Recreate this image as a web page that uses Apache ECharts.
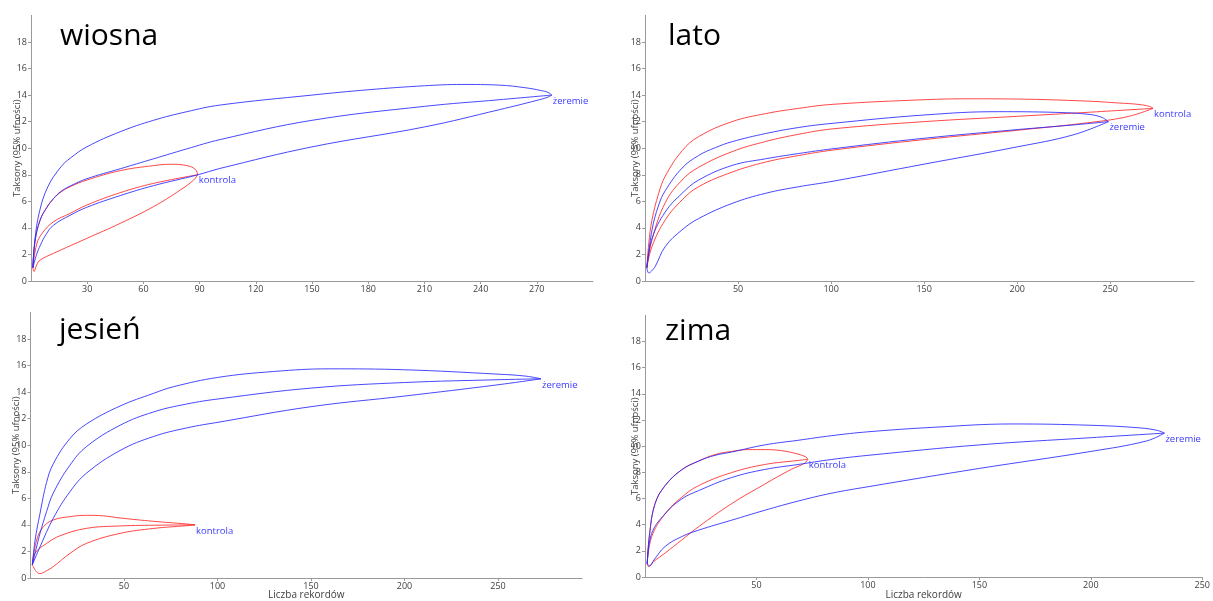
<!DOCTYPE html>
<html><head><meta charset="utf-8">
<script src="https://cdn.jsdelivr.net/npm/echarts@6/dist/echarts.min.js"></script>
<style>html,body{margin:0;padding:0;background:#fff}#c{width:1213px;height:601px}</style>
</head><body><div id="c"></div>
<script>
// ---------- DATA ----------
const panelTitles = ['wiosna', 'lato', 'jesień', 'zima'];
const groupNames = ['kontrola', 'żeremie'];
const xMaxes = [300, 295, 295, 250];
const xIntervals = [30, 50, 50, 50];
const yMax = 20, yInterval = 2;
const yAxisName = 'Taksony (95% ufności)';
const xAxisName = 'Liczba rekordów';

// wiosna
const wiosnaKontrolaUpper = [[1,1],[2.2,3.1],[4.9,4.6],[8.5,5.55],[12,6.2],[16,6.7],[20.9,7.1],[29.8,7.6],[47.6,8.31],[65.4,8.69],[74.3,8.79],[83.2,8.69],[87.7,8.41],[89,8]];
const wiosnaKontrolaMean  = [[1,1],[3.1,2.8],[6,3.6],[12,4.46],[20.9,5.09],[29.8,5.72],[47.6,6.65],[65.4,7.35],[89,8]];
const wiosnaKontrolaLower = [[1,1],[1.6,0.72],[3,1.2],[4.9,1.58],[12,2.08],[29.8,3.21],[47.6,4.34],[65.4,5.6],[79.7,6.85],[86.8,7.6],[89,8]];
const wiosnaZeremieUpper  = [[1,1],[2,3.0],[4.5,5.2],[9,7.1],[16,8.6],[20.9,9.24],[29.8,10.1],[47.6,11.24],[65.4,12.1],[83.2,12.75],[101,13.25],[150,14.0],[180,14.4],[210,14.7],[230,14.8],[250,14.75],[264,14.55],[272,14.35],[276,14.2],[278,14]];
const wiosnaZeremieMean   = [[1,1],[2.2,3.0],[4.9,4.6],[8.5,5.55],[12,6.2],[16,6.75],[20.9,7.15],[29.8,7.7],[47.6,8.45],[65.4,9.2],[83.2,9.95],[101,10.65],[150,12.1],[210,13.15],[250,13.65],[278,14]];
const wiosnaZeremieLower  = [[1,1],[3,2.0],[5,2.7],[8,3.5],[12,4.2],[20.9,4.95],[29.8,5.55],[47.6,6.43],[65.4,7.18],[88.6,7.98],[101,8.48],[150,10.1],[210,11.6],[250,12.9],[270,13.6],[276,13.85],[278,14]];

// lato
const latoKontrolaUpper = [[1,1],[2,2.8],[3.76,4.6],[7.35,6.6],[10.9,7.9],[19.9,9.8],[28.8,10.87],[46.8,12.0],[64.7,12.6],[82.6,13.0],[100.5,13.3],[150,13.65],[175,13.72],[200,13.7],[237,13.55],[255,13.4],[265,13.3],[271,13.15],[273,13]];
const latoKontrolaMean  = [[1,1],[3.76,3.1],[10.9,5.9],[19.9,7.6],[28.8,8.56],[46.8,9.74],[64.7,10.5],[82.6,11.05],[100.5,11.45],[150,12.0],[200,12.4],[240,12.72],[273,13]];
const latoKontrolaLower = [[1,1],[3.76,2.6],[10.9,4.6],[19.9,6.1],[28.8,7.1],[46.8,8.2],[64.7,8.95],[82.6,9.45],[100.5,9.85],[150,10.65],[200,11.35],[240,11.95],[260,12.4],[273,13]];
const latoZeremieUpper  = [[1,1],[3.76,3.84],[7.35,5.72],[10.9,6.8],[19.9,8.5],[28.8,9.45],[37.8,10.04],[46.8,10.49],[64.7,11.1],[82.6,11.56],[100.5,11.87],[150,12.5],[190,12.75],[220,12.7],[237,12.57],[245,12.35],[249,12]];
const latoZeremieMean   = [[1,1],[3.76,3.2],[10.9,5.2],[19.9,6.6],[28.8,7.6],[46.8,8.7],[64.7,9.2],[82.6,9.6],[100.5,9.95],[150,10.75],[200,11.4],[230,11.75],[249,12]];
const latoZeremieLower  = [[1,1],[2,0.6],[3.5,0.75],[5.5,1.1],[10.9,2.6],[19.9,3.85],[28.8,4.7],[46.8,5.84],[64.7,6.6],[82.6,7.1],[100.5,7.5],[150,8.8],[200,10.1],[230,11.0],[249,12]];

// jesień
const jesienKontrolaUpper = [[1,1],[3.3,2.86],[6.9,3.86],[12.2,4.37],[21.1,4.62],[30,4.72],[38.9,4.68],[47.9,4.52],[65.7,4.27],[83.5,4.07],[88,4]];
const jesienKontrolaMean  = [[1,1],[2.4,1.86],[8.6,2.6],[15.8,3.18],[30,3.74],[47.9,3.92],[69.2,3.98],[88,4]];
const jesienKontrolaLower = [[1,1],[3,0.5],[5,0.33],[8,0.5],[12.2,0.86],[21.1,1.85],[30,2.61],[47.9,3.36],[65.7,3.73],[83.5,3.94],[88,4]];
const jesienZeremieUpper  = [[1,1],[2.4,2.8],[5.1,4.87],[8.6,7.2],[12.2,8.6],[21.1,10.5],[30,11.6],[47.9,12.95],[65.7,13.9],[76.4,14.4],[100,15.1],[130,15.55],[160,15.75],[200,15.68],[250,15.35],[265,15.2],[273,15]];
const jesienZeremieMean   = [[1,1],[3,2.2],[5.1,3.36],[8.6,5.0],[12.2,6.4],[21.1,8.5],[30,9.9],[47.9,11.5],[65.7,12.5],[83.5,13.1],[101.3,13.5],[150,14.3],[200,14.72],[250,14.93],[273,15]];
const jesienZeremieLower  = [[1,1],[5.1,2.35],[12.2,4.5],[21.1,6.5],[30,7.9],[47.9,9.6],[65.7,10.65],[83.5,11.3],[101.3,11.75],[150,12.9],[200,13.7],[250,14.55],[273,15]];

// zima
const zimaKontrolaUpper = [[1,1],[2,3.2],[4.5,5.6],[9,6.98],[16.5,8.2],[24,8.86],[31.4,9.36],[38.8,9.6],[46.2,9.74],[53.7,9.74],[61.2,9.66],[68.6,9.4],[72.3,9.16],[73,9]];
const zimaKontrolaMean  = [[1,1],[3,3.08],[9,4.83],[16.5,6.1],[24,6.98],[38.8,7.98],[53.7,8.6],[68.6,8.91],[73,9]];
const zimaKontrolaLower = [[1,1],[1.6,0.8],[4,1.2],[9,1.83],[16.5,2.83],[24,3.84],[38.8,5.6],[53.7,7.1],[65.6,8.23],[71.6,8.7],[73,9]];
const zimaZeremieUpper  = [[1,1],[2,3.2],[4.5,5.6],[9,6.98],[16.5,8.2],[24,8.86],[31.4,9.3],[38.8,9.55],[53.7,10.1],[68.6,10.45],[83.5,10.8],[100,11.1],[130,11.45],[165,11.7],[200,11.6],[222,11.4],[230,11.2],[233,11]];
const zimaZeremieMean   = [[1,1],[3,3.33],[9,4.83],[16.5,5.97],[24,6.6],[38.8,7.6],[53.7,8.22],[68.6,8.6],[83.5,8.98],[100,9.3],[150,10.1],[200,10.65],[233,11]];
const zimaZeremieLower  = [[1,1],[2,0.85],[4,1.3],[9,2.33],[16.5,3.09],[24,3.58],[38.8,4.34],[53.7,5.1],[68.6,5.8],[83.5,6.4],[100,6.9],[150,8.3],[200,9.6],[225,10.4],[233,11]];

const panelCurves = [
  [[wiosnaKontrolaUpper, wiosnaKontrolaMean, wiosnaKontrolaLower], [wiosnaZeremieUpper, wiosnaZeremieMean, wiosnaZeremieLower]],
  [[latoKontrolaUpper, latoKontrolaMean, latoKontrolaLower], [latoZeremieUpper, latoZeremieMean, latoZeremieLower]],
  [[jesienKontrolaUpper, jesienKontrolaMean, jesienKontrolaLower], [jesienZeremieUpper, jesienZeremieMean, jesienZeremieLower]],
  [[zimaKontrolaUpper, zimaKontrolaMean, zimaKontrolaLower], [zimaZeremieUpper, zimaZeremieMean, zimaZeremieLower]]
];

// ---------- LAYOUT / STYLE ----------
const grids = [
  {left: 31, top: 15.4, width: 562, height: 265.6},
  {left: 645, top: 15.4, width: 549, height: 265.6},
  {left: 30.5, top: 312.4, width: 551.6, height: 265.6},
  {left: 645, top: 315.4, width: 560, height: 265.6}
];
const titlePos = [[60, 21], [668, 21], [59, 315], [665, 316]];
const yNameGaps = [9, 5, 9, 5];
const xNameGaps = [12, 12, 12, 13];
const groupColors = ['rgba(255,40,40,0.85)', 'rgba(40,40,255,0.85)'];
const labelColor = '#3a3aff';
const font = 'Open Sans';

const axisCommon = {
  axisLine: {lineStyle: {color: '#9a9a9a', width: 1}},
  axisTick: {show: true, length: 3, lineStyle: {color: '#9a9a9a'}},
  splitLine: {show: false},
  axisLabel: {color: '#404040', fontSize: 9, fontFamily: font, margin: 4}
};

const option = {
  animation: false,
  backgroundColor: '#fff',
  title: panelTitles.map((t, i) => ({
    text: t, left: titlePos[i][0], top: titlePos[i][1], padding: 0,
    textStyle: {fontSize: 30, fontWeight: 'normal', fontFamily: font, color: '#000'}
  })),
  grid: grids.map(g => Object.assign({containLabel: false}, g)),
  xAxis: grids.map((g, i) => Object.assign({}, axisCommon, {
    type: 'value', gridIndex: i, min: 0, max: xMaxes[i], interval: xIntervals[i],
    name: i >= 2 ? xAxisName : '', nameLocation: 'middle', nameGap: xNameGaps[i],
    nameMoveOverlap: false,
    nameTextStyle: {color: '#404040', fontSize: 10, fontFamily: font},
    axisLabel: Object.assign({}, axisCommon.axisLabel, {showMinLabel: false, showMaxLabel: i === 3})
  })),
  yAxis: grids.map((g, i) => Object.assign({}, axisCommon, {
    type: 'value', gridIndex: i, min: 0, max: yMax, interval: yInterval,
    name: yAxisName, nameLocation: 'middle', nameGap: yNameGaps[i],
    nameMoveOverlap: false,
    nameTextStyle: {color: '#404040', fontSize: 9.5, fontFamily: font},
    axisLabel: Object.assign({}, axisCommon.axisLabel, {showMaxLabel: false})
  })),
  series: []
};

panelCurves.forEach((groups, p) => {
  groups.forEach((curves, g) => {
    curves.forEach((data, k) => {
      const s = {
        type: 'line', xAxisIndex: p, yAxisIndex: p, data: data,
        showSymbol: false, symbol: 'none', smooth: 0.4,
        lineStyle: {color: groupColors[g], width: 1}, silent: true
      };
      if (k === 1) {
        s.endLabel = {show: true, formatter: groupNames[g], color: labelColor,
          fontSize: 9.5, fontFamily: font, distance: 1, offset: [0, 6]};
      }
      option.series.push(s);
    });
  });
});

const chart = echarts.init(document.getElementById('c'), null, {renderer: 'canvas'});
chart.setOption(option);
</script>
</body></html>
